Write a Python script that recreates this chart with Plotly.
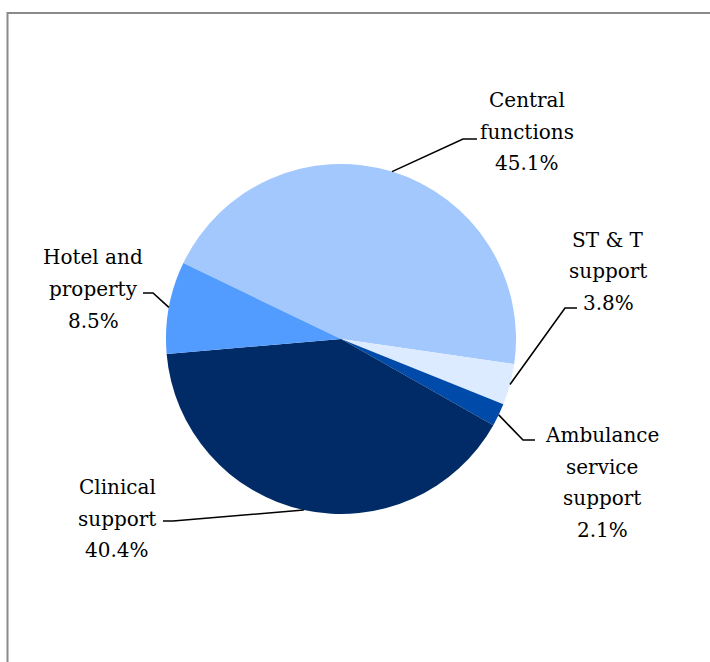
import math
import plotly.graph_objects as go

# Spend by function, share of total (%)
categories = ["Central functions", "ST & T support", "Ambulance service support",
              "Clinical support", "Hotel and property"]
shares = [45.1, 3.8, 2.1, 40.4, 8.5]
label_lines = [["Central", "functions"], ["ST & T", "support"],
               ["Ambulance", "service", "support"], ["Clinical", "support"],
               ["Hotel and", "property"]]
colors = ["#A2C8FE", "#DCEBFF", "#004BAA", "#002B66", "#539CFF"]

W, H = 710, 662
CX, CY, R = 341, 339, 175          # pie centre / radius in pixels
ROTATION = -64.3                   # first slice start, clockwise from 12 o'clock
LINE_GAP = 31.5                    # label line spacing, pixels
FONT = dict(family="DejaVu Serif", size=20, color="black")

# label block centre and elbow of each leader line (pixels)
label_pos = [(527, 131.5), (608, 271), (602, 482.5), (117, 518.5), (93, 289)]
elbows = [((463, 139), (477, 139)), ((565, 308), (577, 308)),
          ((523, 440), (535, 440)), ((173, 521), (163, 521)),
          ((153, 293), (143, 293))]


def px(x, y):
    return x / W, 1 - y / H


fig = go.Figure()
fig.add_trace(go.Pie(
    labels=categories, values=shares, sort=False, direction="clockwise",
    rotation=ROTATION, marker=dict(colors=colors, line=dict(width=0)),
    textinfo="none", hoverinfo="label+percent", showlegend=False,
    domain=dict(x=[(CX - R) / W, (CX + R) / W],
                y=[1 - (CY + R) / H, 1 - (CY - R) / H]),
))

total = sum(shares)
start = 90 - ROTATION  # math angle (deg, counter-clockwise from 3 o'clock)
shapes = []
annotations = []
for i, v in enumerate(shares):
    sweep = v / total * 360
    mid = math.radians(start - sweep / 2)
    start -= sweep
    ex, ey = CX + R * math.cos(mid), CY - R * math.sin(mid)
    (bx, by), (tx, ty) = elbows[i]
    p0, p1, p2 = px(ex, ey), px(bx, by), px(tx, ty)
    shapes.append(dict(
        type="path", xref="paper", yref="paper",
        path=f"M {p0[0]} {p0[1]} L {p1[0]} {p1[1]} L {p2[0]} {p2[1]}",
        line=dict(color="black", width=1.6)))
    lines = label_lines[i] + [f"{v:.1f}%"]
    cx, cy = label_pos[i]
    n = len(lines)
    for j, line in enumerate(lines):
        lx, ly = px(cx, cy + (j - (n - 1) / 2) * LINE_GAP)
        annotations.append(dict(
            x=lx, y=ly, xref="paper", yref="paper", text=line,
            showarrow=False, xanchor="center", yanchor="middle",
            align="center", font=FONT))

# chart frame
shapes.append(dict(type="rect", xref="paper", yref="paper",
                   x0=7.5 / W, x1=1.05, y0=-0.05, y1=1 - 13 / H,
                   line=dict(color="#8a8a8a", width=2)))

fig.update_layout(
    width=W, height=H, margin=dict(l=0, r=0, t=0, b=0),
    paper_bgcolor="white", plot_bgcolor="white",
    font=dict(family="DejaVu Serif"),
    shapes=shapes, annotations=annotations,
)

fig.write_html("out.html")
